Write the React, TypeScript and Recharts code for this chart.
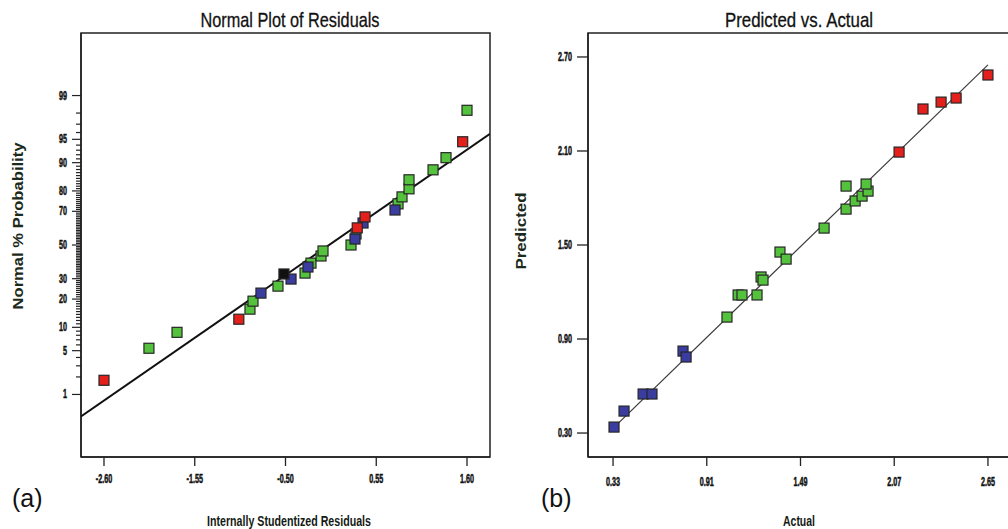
import React from 'react';
import { ScatterChart, Scatter, XAxis, YAxis, ReferenceArea } from 'recharts';

// ---------- Panel (a): Normal plot of residuals ----------
// [internally studentized residual, normal % probability]
const leftRed: [number, number][] = [
  [-2.6, 1.76], [-1.04, 12.4], [0.33, 60.5], [0.42, 66.9], [1.55, 94.6],
];
const leftGreen: [number, number][] = [
  [-2.08, 5.4], [-1.755, 8.7], [-0.911, 15.9], [-0.876, 19.1], [-0.587, 26.1],
  [-0.274, 33.1], [-0.205, 38.9], [-0.089, 43.2], [-0.066, 46.3], [0.258, 50.0],
  [0.316, 56.8], [0.802, 73.9], [0.848, 77.3], [0.929, 80.9], [0.929, 84.5],
  [1.207, 87.9], [1.357, 91.3], [1.6, 98.2],
];
const leftBlue: [number, number][] = [
  [-0.784, 22.7], [-0.436, 29.8], [-0.24, 36.6], [0.304, 53.7], [0.397, 63.4], [0.767, 70.7],
];
const leftBlack: [number, number][] = [[-0.518, 32.6]];
// fitted normal line: [residual, % probability]
const leftFit: [number, number][] = [[-2.866, 0.38], [1.866, 95.84]];

const leftXTicks = [-2.6, -1.55, -0.5, 0.55, 1.6];
const leftXTickLabels = ['-2.60', '-1.55', '-0.50', '0.55', '1.60'];
const leftMajorPercents = [1, 5, 10, 20, 30, 50, 70, 80, 90, 95, 99];
const leftMinorPercents = [
  2, 3, 4, 6, 7, 8, 9, 11, 12, 13, 14, 15, 16, 17, 18, 19, 21, 22, 23, 24, 25, 26, 27, 28, 29,
  31, 32, 33, 34, 35, 36, 37, 38, 39, 40, 41, 42, 43, 44, 45, 46, 47, 48, 49,
  51, 52, 53, 54, 55, 56, 57, 58, 59, 60, 61, 62, 63, 64, 65, 66, 67, 68, 69,
  71, 72, 73, 74, 75, 76, 77, 78, 79, 81, 82, 83, 84, 85, 86, 87, 88, 89,
  91, 92, 93, 94, 96, 97, 98,
];

// ---------- Panel (b): Predicted vs Actual ----------
// [actual, predicted]
const rightBlue: [number, number][] = [
  [0.336, 0.338], [0.398, 0.44], [0.516, 0.549], [0.571, 0.549], [0.763, 0.823], [0.782, 0.785],
];
const rightGreen: [number, number][] = [
  [1.035, 1.04], [1.104, 1.181], [1.128, 1.181], [1.221, 1.181], [1.246, 1.296], [1.258, 1.276],
  [1.363, 1.455], [1.401, 1.41], [1.636, 1.608], [1.772, 1.729], [1.828, 1.781], [1.871, 1.812],
  [1.908, 1.844], [1.896, 1.889], [1.772, 1.876],
];
const rightRed: [number, number][] = [
  [2.1, 2.093], [2.248, 2.368], [2.36, 2.412], [2.453, 2.438], [2.65, 2.585],
];
const rightFit: [number, number][] = [[0.32, 0.32], [2.65, 2.65]];
const rightXTicks = [0.33, 0.91, 1.49, 2.07, 2.65];
const rightYTicks = [0.3, 0.9, 1.5, 2.1, 2.7];

const RED = '#e3201c';
const GREEN = '#55c23d';
const BLUE = '#3a3c9f';
const BLACK = '#111111';
const SANS = "'Liberation Sans', Arial, sans-serif";

// inverse normal CDF (Acklam)
function probit(p: number): number {
  const a = [-3.969683028665376e1, 2.209460984245205e2, -2.759285104469687e2, 1.38357751867269e2, -3.066479806614716e1, 2.506628277459239];
  const b = [-5.447609879822406e1, 1.615858368580409e2, -1.556989798598866e2, 6.680131188771972e1, -1.328068155288572e1];
  const c = [-7.784894002430293e-3, -3.223964580411365e-1, -2.400758277161838, -2.549732539343734, 4.374664141464968, 2.938163982698783];
  const d = [7.784695709041462e-3, 3.224671290700398e-1, 2.445134137142996, 3.754408661907416];
  const pl = 0.02425;
  if (p < pl) {
    const q = Math.sqrt(-2 * Math.log(p));
    return (((((c[0] * q + c[1]) * q + c[2]) * q + c[3]) * q + c[4]) * q + c[5]) / ((((d[0] * q + d[1]) * q + d[2]) * q + d[3]) * q + 1);
  }
  if (p <= 1 - pl) {
    const q = p - 0.5;
    const r = q * q;
    return ((((((a[0] * r + a[1]) * r + a[2]) * r + a[3]) * r + a[4]) * r + a[5]) * q) / (((((b[0] * r + b[1]) * r + b[2]) * r + b[3]) * r + b[4]) * r + 1);
  }
  const q = Math.sqrt(-2 * Math.log(1 - p));
  return -(((((c[0] * q + c[1]) * q + c[2]) * q + c[3]) * q + c[4]) * q + c[5]) / ((((d[0] * q + d[1]) * q + d[2]) * q + d[3]) * q + 1);
}
const zOf = (pct: number) => probit(pct / 100);

const toLeft = (arr: [number, number][]) => arr.map(([x, p]) => ({ x, z: zOf(p) }));
const toRight = (arr: [number, number][]) => arr.map(([x, y]) => ({ x, y }));

const leftTickList = [...leftMajorPercents, ...leftMinorPercents].sort((m, n) => m - n);
const leftTickZ = leftTickList.map(zOf);
const leftTickLabel = new Map<string, string>();
leftTickList.forEach((p) => leftTickLabel.set(zOf(p).toFixed(5), leftMajorPercents.includes(p) ? String(p) : ''));

const LX: [number, number] = [-2.866, 1.866];
const LZ: [number, number] = [-3.3, 3.3];
const RX: [number, number] = [0.175, 2.805];
const RY: [number, number] = [0.147, 2.853];

const square = (fill: string) => (props: any) => {
  const { cx, cy } = props;
  if (cx == null || cy == null) return <g />;
  return <rect x={cx - 5} y={cy - 5} width={10} height={10} fill={fill} stroke="#262626" strokeWidth={1.2} />;
};
const noShape = () => <g />;

const tickText = {
  fontFamily: SANS,
  fontWeight: 700,
  fontSize: 12,
  fill: '#111',
  stroke: '#111',
  strokeWidth: 0.5,
};

// condensed tick label: anchor point (x,y) is the baseline anchor
const TickLabel = ({ x, y, anchor, children }: any) => (
  <g transform={`translate(${x},${y}) scale(0.6,1)`}>
    <text x={0} y={0} textAnchor={anchor} style={tickText}>
      {children}
    </text>
  </g>
);

const LeftYTick = (props: any) => {
  const { x, y, payload } = props;
  const label = leftTickLabel.get(Number(payload.value).toFixed(5)) || '';
  const major = label !== '';
  return (
    <g>
      <line x1={x - (major ? 9 : 5)} y1={y} x2={x} y2={y} stroke="#222" strokeWidth={1.2} />
      {major && (
        <TickLabel x={x - 14} y={y + 4} anchor="end">
          {label}
        </TickLabel>
      )}
    </g>
  );
};

const LeftXTick = (props: any) => {
  const { x, y, payload } = props;
  const i = leftXTicks.indexOf(payload.value);
  return (
    <g>
      <line x1={x} y1={y} x2={x} y2={y + 9} stroke="#222" strokeWidth={1.3} />
      <TickLabel x={x} y={y + 26} anchor="middle">
        {i >= 0 ? leftXTickLabels[i] : ''}
      </TickLabel>
    </g>
  );
};

const RightYTick = (props: any) => {
  const { x, y, payload } = props;
  return (
    <g>
      <line x1={x - 11} y1={y} x2={x} y2={y} stroke="#222" strokeWidth={1.3} />
      <TickLabel x={x - 16} y={y + 4} anchor="end">
        {Number(payload.value).toFixed(2)}
      </TickLabel>
    </g>
  );
};

const RightXTick = (props: any) => {
  const { x, y, payload } = props;
  return (
    <g>
      <line x1={x} y1={y} x2={x} y2={y + 9} stroke="#222" strokeWidth={1.3} />
      <TickLabel x={x} y={y + 29} anchor="middle">
        {Number(payload.value).toFixed(2)}
      </TickLabel>
    </g>
  );
};

export default function App() {
  return (
    <div style={{ position: 'absolute', left: 0, top: 0, width: 1008, height: 529, overflow: 'hidden', background: '#fff' }}>
      <div style={{ position: 'absolute', left: 0, top: 0 }}>
        <ScatterChart width={500} height={529} margin={{ top: 33, right: 10, bottom: 0, left: 0 }}>
          <XAxis
            type="number"
            dataKey="x"
            domain={LX}
            ticks={leftXTicks}
            interval={0}
            height={72}
            tickSize={0}
            tickMargin={0}
            tickLine={false}
            tick={(p: any) => <LeftXTick {...p} />}
            axisLine={{ stroke: '#222', strokeWidth: 1.5 }}
            allowDataOverflow
          />
          <YAxis
            type="number"
            dataKey="z"
            domain={LZ}
            ticks={leftTickZ}
            interval={0}
            width={81}
            tickSize={0}
            tickMargin={0}
            tickLine={false}
            tick={(p: any) => <LeftYTick {...p} />}
            axisLine={{ stroke: '#222', strokeWidth: 1.5 }}
            allowDataOverflow
          />
          <ReferenceArea x1={LX[0]} x2={LX[1]} y1={LZ[0]} y2={LZ[1]} fill="none" stroke="#222" strokeWidth={1.5} ifOverflow="visible" />
          <Scatter data={toLeft(leftFit)} shape={noShape} line={{ stroke: '#111', strokeWidth: 2 }} isAnimationActive={false} />
          <Scatter data={toLeft(leftGreen)} shape={square(GREEN)} isAnimationActive={false} />
          <Scatter data={toLeft(leftBlue)} shape={square(BLUE)} isAnimationActive={false} />
          <Scatter data={toLeft(leftRed)} shape={square(RED)} isAnimationActive={false} />
          <Scatter data={toLeft(leftBlack)} shape={square(BLACK)} isAnimationActive={false} />
        </ScatterChart>
      </div>
      <div style={{ position: 'absolute', left: 500, top: 0 }}>
        <ScatterChart width={520} height={529} margin={{ top: 33, right: 7, bottom: 0, left: 0 }}>
          <XAxis
            type="number"
            dataKey="x"
            domain={RX}
            ticks={rightXTicks}
            interval={0}
            height={72}
            tickSize={0}
            tickMargin={0}
            tickLine={false}
            tick={(p: any) => <RightXTick {...p} />}
            axisLine={{ stroke: '#222', strokeWidth: 1.5 }}
            allowDataOverflow
          />
          <YAxis
            type="number"
            dataKey="y"
            domain={RY}
            ticks={rightYTicks}
            interval={0}
            width={88}
            tickSize={0}
            tickMargin={0}
            tickLine={false}
            tick={(p: any) => <RightYTick {...p} />}
            axisLine={{ stroke: '#222', strokeWidth: 1.5 }}
            allowDataOverflow
          />
          <ReferenceArea x1={RX[0]} x2={RX[1]} y1={RY[0]} y2={RY[1]} fill="none" stroke="#222" strokeWidth={1.5} ifOverflow="visible" />
          <Scatter data={toRight(rightFit)} shape={noShape} line={{ stroke: '#3a3a3a', strokeWidth: 1.2 }} isAnimationActive={false} />
          <Scatter data={toRight(rightBlue)} shape={square(BLUE)} isAnimationActive={false} />
          <Scatter data={toRight(rightGreen)} shape={square(GREEN)} isAnimationActive={false} />
          <Scatter data={toRight(rightRed)} shape={square(RED)} isAnimationActive={false} />
        </ScatterChart>
      </div>
      <svg width={1008} height={529} style={{ position: 'absolute', left: 0, top: 0, pointerEvents: 'none' }}>
        <text x={290} y={27} textAnchor="middle" textLength={179} lengthAdjust="spacingAndGlyphs" style={{ fontFamily: SANS, fontSize: 21, fill: '#111', stroke: '#111', strokeWidth: 0.3 }}>
          Normal Plot of Residuals
        </text>
        <text x={799} y={27} textAnchor="middle" textLength={148} lengthAdjust="spacingAndGlyphs" style={{ fontFamily: SANS, fontSize: 21, fill: '#111', stroke: '#111', strokeWidth: 0.3 }}>
          Predicted vs. Actual
        </text>
        <text x={289} y={526} textAnchor="middle" textLength={164} lengthAdjust="spacingAndGlyphs" style={{ fontFamily: SANS, fontWeight: 700, fontSize: 15, fill: '#141a14' }}>
          Internally Studentized Residuals
        </text>
        <text x={799} y={526} textAnchor="middle" textLength={32} lengthAdjust="spacingAndGlyphs" style={{ fontFamily: SANS, fontWeight: 700, fontSize: 15, fill: '#141a14' }}>
          Actual
        </text>
        <text
          x={18}
          y={226}
          textAnchor="middle"
          dominantBaseline="central"
          transform="rotate(-90 18 226)"
          textLength={167}
          lengthAdjust="spacingAndGlyphs"
          style={{ fontFamily: SANS, fontWeight: 700, fontSize: 14, fill: '#1b2a1b' }}
        >
          Normal % Probability
        </text>
        <text
          x={520}
          y={231}
          textAnchor="middle"
          dominantBaseline="central"
          transform="rotate(-90 520 231)"
          textLength={77}
          lengthAdjust="spacingAndGlyphs"
          style={{ fontFamily: SANS, fontWeight: 700, fontSize: 15, fill: '#1b2a1b' }}
        >
          Predicted
        </text>
        <text x={12} y={507} style={{ fontFamily: SANS, fontSize: 25, fill: '#111' }}>
          (a)
        </text>
        <text x={541} y={507} style={{ fontFamily: SANS, fontSize: 25, fill: '#111' }}>
          (b)
        </text>
      </svg>
    </div>
  );
}
